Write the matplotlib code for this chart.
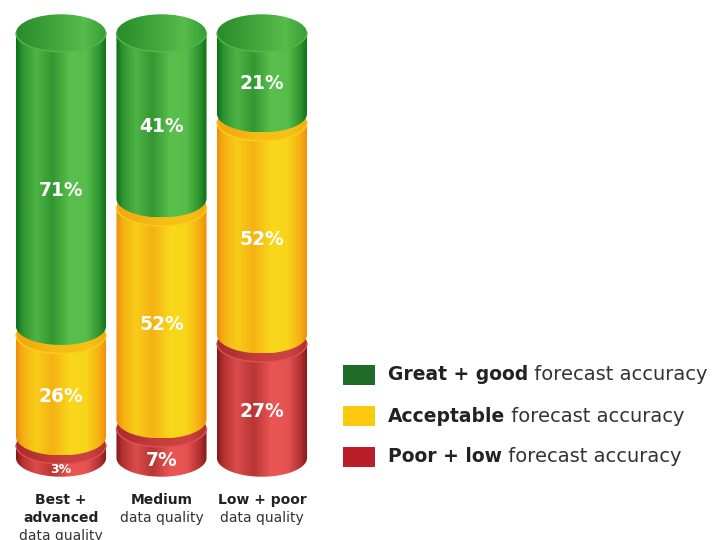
import matplotlib
matplotlib.use("Agg")
import matplotlib.pyplot as plt
import numpy as np
from matplotlib.patches import Ellipse, Polygon, Rectangle
from matplotlib.colors import LinearSegmentedColormap, to_rgb

# data
groups = ["Best +\nadvanced", "Medium", "Low + poor"]
group_sub = "data quality"
poor = [3, 7, 27]
acceptable = [26, 52, 52]
great = [71, 41, 21]
series = [poor, acceptable, great]          # bottom -> top
legend_bold = ["Great + good", "Acceptable", "Poor + low"]
legend_rest = " forecast accuracy"

# colours (bottom -> top): (dark edge, light stripe), legend swatch
shade = [("#861515", "#ea5654"), ("#f08c0c", "#f9d81b"), ("#0b6f18", "#5ac04d")]
swatch = ["#1f6b28", "#ffc90e", "#bb1d2b"]

plt.rcParams['font.family'] = ['DejaVu Sans']

fig = plt.figure(figsize=(7.13, 5.40), dpi=100)
ax = fig.add_axes([0, 0, 1, 1])
ax.axis('off')

W = 0.896       # cylinder width (category units)
B = 4.4         # ellipse half height (percent units)
GAP = 2.0       # gap between stacked pieces


def mix(c1, c2, f):
    return np.array(to_rgb(c1)) * (1 - f) + np.array(to_rgb(c2)) * f


def body_cmap(dark, light):
    stops = [(0.0, mix(dark, light, 0.0)), (0.07, mix(dark, light, 0.45)),
             (0.22, mix(dark, light, 0.85)), (0.4, mix(dark, light, 0.5)),
             (0.6, mix(dark, light, 1.0)), (0.78, mix(dark, light, 0.95)),
             (0.92, mix(dark, light, 0.45)), (1.0, mix(dark, light, 0.0))]
    return LinearSegmentedColormap.from_list("c", stops)


def cap_cmap(dark, light, top):
    if top:
        stops = [(0.0, mix(dark, light, 0.35)), (0.45, mix(dark, light, 0.7)),
                 (0.75, mix(dark, light, 0.95)), (1.0, mix(dark, light, 0.55))]
    else:
        stops = [(0.0, mix(dark, light, 0.35)), (0.5, mix(dark, light, 0.65)),
                 (0.8, mix(dark, light, 0.7)), (1.0, mix(dark, light, 0.4))]
    return LinearSegmentedColormap.from_list("k", stops)


grad = np.linspace(0, 1, 256).reshape(1, -1)
t = np.linspace(np.pi, 2 * np.pi, 80)

for i, name in enumerate(groups):
    cx = i
    a = W / 2
    base = 0
    z = 2
    for k, vals in enumerate(series):
        v = vals[i]
        y_bot = base + (GAP if k > 0 else 0)
        y_top = base + v
        dark, light = shade[k]

        # front body: side walls + lower arc of bottom ellipse
        pts = [(cx - a, y_top)]
        pts += list(zip(cx + a * np.cos(t), y_bot + B * np.sin(t)))
        pts += [(cx + a, y_top)]
        body = Polygon(pts, closed=True, fc='none', lw=0, zorder=z)
        ax.add_patch(body)
        im = ax.imshow(grad, cmap=body_cmap(dark, light), aspect='auto', origin='lower',
                       extent=(cx - a, cx + a, y_bot - B, y_top), zorder=z, interpolation='bicubic')
        im.set_clip_path(body)

        # top ellipse of this piece
        cap = Ellipse((cx, y_top), W, 2 * B, fc='none', lw=0, zorder=z + 1)
        ax.add_patch(cap)
        im2 = ax.imshow(grad, cmap=cap_cmap(dark, light, k == len(series) - 1), aspect='auto',
                        origin='lower', extent=(cx - a, cx + a, y_top - B, y_top + B),
                        zorder=z + 1, interpolation='bicubic')
        im2.set_clip_path(cap)
        # light front rim of the cap
        rim_x = cx + a * np.cos(t)
        rim_y = y_top + B * np.sin(t)
        ax.plot(rim_x, rim_y, color=mix(dark, light, 0.9), lw=1.0, zorder=z + 1)

        # value label
        if v >= 10:
            ly = (y_bot + y_top) / 2 - 2.5
            fs = 13.5
        else:
            ly = (y_top + y_bot - B) / 2 - 2.0
            fs = 13.5 if v > 5 else 9
        ax.text(cx, ly, f"{v}%", color='white', fontsize=fs, fontweight='bold',
                ha='center', va='center', zorder=50)

        base = y_top
        z += 2

    # category label
    lines = name.split("\n")
    y0 = -9.9
    dy = 4.25
    for j, ln in enumerate(lines):
        ax.text(cx, y0 - j * dy, ln, ha='center', va='center', fontsize=10,
                fontweight='bold', color='#222222')
    ax.text(cx, y0 - len(lines) * dy, group_sub, ha='center', va='center',
            fontsize=10, color='#333333')

ax.set_xlim(-0.607, 6.488)
ax.set_ylim(-19.29, 107.76)

# legend (figure pixels -> fraction)
fw, fh = 713, 540
leg_y = [375, 416, 457]
for j in range(3):
    yc = leg_y[j]
    ax.add_patch(Rectangle((343 / fw, 1 - (yc + 10) / fh), 32 / fw, 20 / fh,
                           transform=fig.transFigure, fc=swatch[j], lw=0, zorder=60))
    tb = fig.text(388 / fw, 1 - yc / fh, legend_bold[j], fontsize=13.5, fontweight='bold',
                  color='#222222', va='center', ha='left')
    ax.annotate(legend_rest, xy=(1, 0), xycoords=tb, va='bottom', ha='left',
                fontsize=14, color='#333333')

fig.savefig("out.png", dpi=100)
